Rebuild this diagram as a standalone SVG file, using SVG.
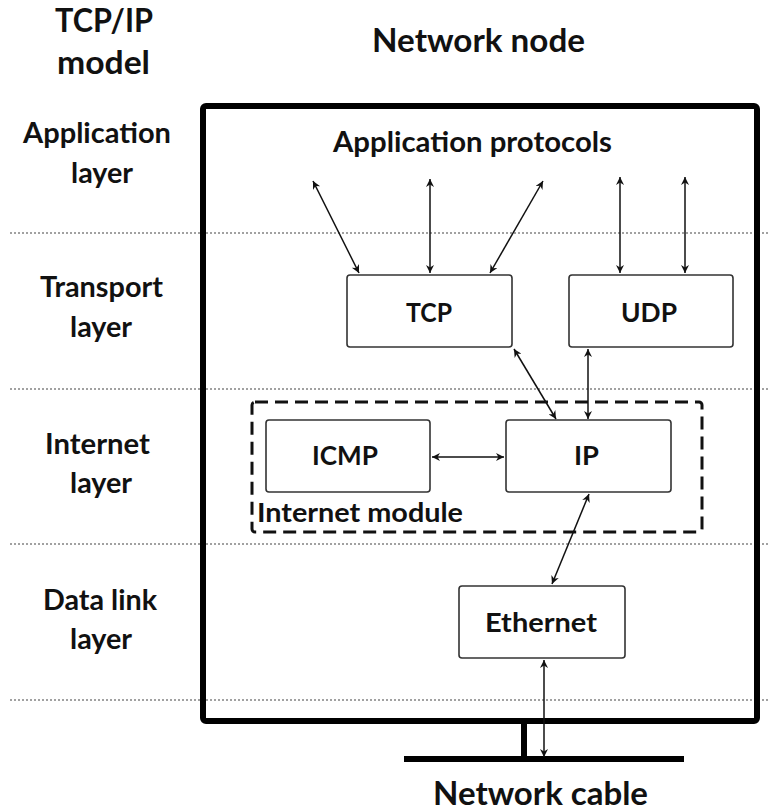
<svg xmlns="http://www.w3.org/2000/svg" width="769" height="809" viewBox="0 0 769 809">
  <style>
    .t { font-family: Lato, "Liberation Sans", sans-serif; font-weight: bold; fill: #111; }
    .lbl { font-size: 28px; }
    .big { font-size: 33px; }
    .box { font-size: 26.5px; }
    .node rect { fill: #fff; stroke: #333; stroke-width: 1.6; }
    .sep { stroke: #444; stroke-width: 1.2; stroke-dasharray: 2 2; }
    .conn line { stroke: #111; stroke-width: 1.5; marker-start: url(#ah); marker-end: url(#ah); }
  </style>
  <defs>
    <marker id="ah" viewBox="0 0 10 10" refX="10" refY="5" markerWidth="11" markerHeight="8" markerUnits="userSpaceOnUse" orient="auto-start-reverse">
      <path d="M0,0 L10,5 L0,10 L3,5 z" fill="#111"/>
    </marker>
  </defs>
  <rect width="769" height="809" fill="#fff"/>

  <!-- layer separators -->
  <g id="separators">
    <line class="sep" x1="10" y1="233" x2="769" y2="233"/>
    <line class="sep" x1="10" y1="389" x2="769" y2="389"/>
    <line class="sep" x1="10" y1="544" x2="769" y2="544"/>
    <line class="sep" x1="10" y1="700" x2="769" y2="700"/>
  </g>

  <!-- layer labels -->
  <g id="layer-labels" class="t">
    <text class="big" x="55" y="32" textLength="98" lengthAdjust="spacingAndGlyphs">TCP/IP</text>
    <text class="big" x="57" y="74" textLength="93" lengthAdjust="spacingAndGlyphs">model</text>
    <text class="lbl" x="23" y="143" textLength="148" lengthAdjust="spacingAndGlyphs">Application</text>
    <text class="lbl" x="71" y="183" textLength="62" lengthAdjust="spacingAndGlyphs">layer</text>
    <text class="lbl" x="40" y="297" textLength="123" lengthAdjust="spacingAndGlyphs">Transport</text>
    <text class="lbl" x="70" y="337" textLength="62" lengthAdjust="spacingAndGlyphs">layer</text>
    <text class="lbl" x="45" y="454" textLength="105" lengthAdjust="spacingAndGlyphs">Internet</text>
    <text class="lbl" x="70" y="493" textLength="62" lengthAdjust="spacingAndGlyphs">layer</text>
    <text class="lbl" x="43" y="610" textLength="114" lengthAdjust="spacingAndGlyphs">Data link</text>
    <text class="lbl" x="70" y="649" textLength="62" lengthAdjust="spacingAndGlyphs">layer</text>
  </g>

  <text class="t big" x="372" y="52" textLength="213" lengthAdjust="spacingAndGlyphs">Network node</text>

  <!-- network node frame and cable -->
  <g id="network-node">
    <rect x="203" y="106" width="554" height="615" rx="3" fill="none" stroke="#000" stroke-width="6"/>
    <line x1="524" y1="721" x2="524" y2="759" stroke="#000" stroke-width="6"/>
    <line x1="404" y1="759" x2="684" y2="759" stroke="#000" stroke-width="6"/>
  </g>
  <text class="t" font-size="32" x="433" y="805" textLength="215" lengthAdjust="spacingAndGlyphs">Network cable</text>

  <text class="t lbl" x="333" y="152" textLength="279" lengthAdjust="spacingAndGlyphs">Application protocols</text>

  <!-- internet module boundary -->
  <g id="internet-module">
    <rect x="252" y="402" width="450" height="130" rx="3" fill="none" stroke="#111" stroke-width="3" stroke-dasharray="13 7"/>
    <text class="t" font-size="27" x="257" y="522" textLength="206" lengthAdjust="spacingAndGlyphs">Internet module</text>
  </g>

  <g id="tcp" class="node">
    <rect x="347" y="275" width="165" height="72" rx="3"/>
    <text class="t box" x="406" y="322" textLength="46" lengthAdjust="spacingAndGlyphs">TCP</text>
  </g>
  <g id="udp" class="node">
    <rect x="569" y="275" width="164" height="72" rx="3"/>
    <text class="t box" x="621" y="322" textLength="56" lengthAdjust="spacingAndGlyphs">UDP</text>
  </g>
  <g id="icmp" class="node">
    <rect x="266" y="420" width="164" height="72" rx="3"/>
    <text class="t box" x="312" y="465" textLength="66" lengthAdjust="spacingAndGlyphs">ICMP</text>
  </g>
  <g id="ip" class="node">
    <rect x="506" y="420" width="165" height="72" rx="3"/>
    <text class="t box" x="574" y="465" textLength="25" lengthAdjust="spacingAndGlyphs">IP</text>
  </g>
  <g id="ethernet" class="node">
    <rect x="459" y="586" width="166" height="72" rx="3"/>
    <text class="t box" x="485" y="632" textLength="112" lengthAdjust="spacingAndGlyphs">Ethernet</text>
  </g>

  <g id="connectors" class="conn">
    <line x1="359" y1="273" x2="313" y2="181"/>
    <line x1="430" y1="273" x2="430" y2="179"/>
    <line x1="490" y1="273" x2="543" y2="181"/>
    <line x1="620" y1="273" x2="620" y2="177"/>
    <line x1="685" y1="273" x2="685" y2="177"/>
    <line x1="514" y1="349" x2="556" y2="419"/>
    <line x1="588" y1="349" x2="588" y2="419"/>
    <line x1="432" y1="457" x2="504" y2="457"/>
    <line x1="589" y1="494" x2="552" y2="584"/>
    <line x1="544" y1="660" x2="544" y2="757"/>
  </g>
</svg>
